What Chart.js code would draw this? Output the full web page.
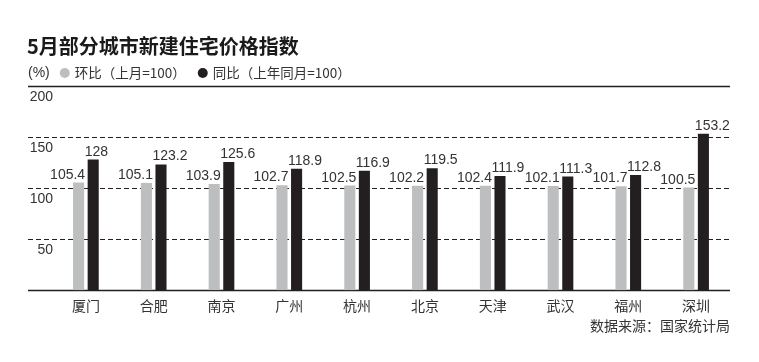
<!DOCTYPE html>
<html>
<head>
<meta charset="utf-8">
<script src="https://cdn.jsdelivr.net/npm/chart.js@4"></script>
<style>
  html, body { margin: 0; padding: 0; background: #fff; }
  #wrap { width: 759px; height: 362px; position: relative; }
</style>
</head>
<body>
<div id="wrap"><canvas id="chart" width="759" height="362"></canvas></div>
<script>
// 城市
const cities = ['厦门', '合肥', '南京', '广州', '杭州', '北京', '天津', '武汉', '福州', '深圳'];
// 环比（上月=100）
const momValues = [105.4, 105.1, 103.9, 102.7, 102.5, 102.2, 102.4, 102.1, 101.7, 100.5];
// 同比（上年同月=100）
const yoyValues = [128, 123.2, 125.6, 118.9, 116.9, 119.5, 111.9, 111.3, 112.8, 153.2];
// 纵轴刻度
const yTicks = [50, 100, 150, 200];

const title = '5月部分城市新建住宅价格指数';
const unit = '(%)';
const source = '数据来源：国家统计局';

const GRAY = '#bcbec0';
const BLACK = '#231f20';
const TEXT = '#333333';
const CJK = '"Noto Sans CJK SC", sans-serif';
const NUM = '"Liberation Sans", Arial, sans-serif';
const LINE_LEFT = 28;

// 标题、图例、网格线、数值
const decor = {
    id: 'decor',
    beforeDatasetsDraw(chart) {
        const c = chart.ctx;
        const area = chart.chartArea;
        const y = chart.scales.y;
        c.save();
        c.strokeStyle = BLACK;
        // 网格线
        [0].concat(yTicks).forEach(v => {
            const py = Math.round(y.getPixelForValue(v)) + 0.5;
            const solid = (v === 0 || v === 200);
            c.lineWidth = solid ? 1.3 : 1;
            c.setLineDash(solid ? [] : [5, 3]);
            c.beginPath();
            c.moveTo(LINE_LEFT, py);
            c.lineTo(area.right, py);
            c.stroke();
        });
        c.setLineDash([]);
        // 刻度标签
        c.fillStyle = TEXT;
        c.font = '14px ' + NUM;
        c.textAlign = 'right';
        c.textBaseline = 'middle';
        yTicks.forEach(v => {
            c.fillText(String(v), 53, y.getPixelForValue(v) + 11);
        });
        c.restore();
    },
    afterDatasetsDraw(chart) {
        const c = chart.ctx;
        c.save();
        c.font = '14px ' + NUM;
        c.fillStyle = TEXT;
        c.textBaseline = 'alphabetic';
        chart.data.datasets.forEach((ds, i) => {
            const meta = chart.getDatasetMeta(i);
            meta.data.forEach((bar, j) => {
                const half = bar.width / 2;
                if (i === 0) {
                    c.textAlign = 'right';
                    c.fillText(String(ds.data[j]), bar.x + half + 1, bar.y - 4);
                } else {
                    c.textAlign = 'left';
                    c.fillText(String(ds.data[j]), bar.x - half - 3, bar.y - 4);
                }
            });
        });

        // 标题
        c.textAlign = 'left';
        c.textBaseline = 'middle';
        c.fillStyle = '#1a1a1a';
        c.font = 'bold 20px ' + CJK;
        c.fillText(title, 27, 46);

        // 图例
        c.fillStyle = TEXT;
        c.font = '14px ' + NUM;
        c.fillText(unit, 28, 73);
        let x = 28 + c.measureText(unit).width + 10;
        chart.data.datasets.forEach(ds => {
            c.fillStyle = ds.backgroundColor;
            c.beginPath();
            c.arc(x + 5, 73, 5, 0, Math.PI * 2);
            c.fill();
            x += 15;
            c.fillStyle = TEXT;
            c.font = '13.5px ' + CJK;
            c.fillText(ds.label, x, 73);
            x += c.measureText(ds.label).width + 12;
        });

        // 数据来源
        c.textAlign = 'right';
        c.font = '14px ' + CJK;
        c.fillText(source, chart.chartArea.right, 326);
        c.restore();
    }
};

new Chart(document.getElementById('chart'), {
    type: 'bar',
    data: {
        labels: cities,
        datasets: [
            {
                label: '环比（上月=100）',
                data: momValues,
                backgroundColor: GRAY,
                categoryPercentage: 0.43,
                barPercentage: 0.76
            },
            {
                label: '同比（上年同月=100）',
                data: yoyValues,
                backgroundColor: BLACK,
                categoryPercentage: 0.43,
                barPercentage: 0.76
            }
        ]
    },
    options: {
        responsive: false,
        animation: false,
        layout: { padding: { top: 86, left: 52, right: 29, bottom: 41 } },
        plugins: {
            legend: { display: false },
            tooltip: { enabled: false }
        },
        scales: {
            x: {
                grid: { display: false, drawTicks: false },
                border: { display: false },
                ticks: {
                    padding: 7,
                    color: TEXT,
                    font: { size: 14, family: CJK }
                }
            },
            y: {
                display: false,
                min: 0,
                max: 200,
                ticks: { stepSize: 50 }
            }
        }
    },
    plugins: [decor]
});
</script>
</body>
</html>
